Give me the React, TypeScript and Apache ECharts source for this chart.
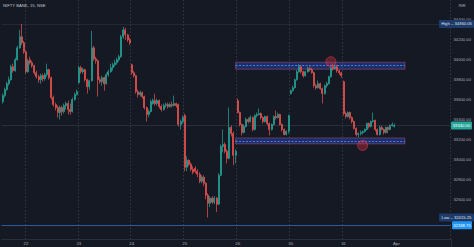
import React, { useEffect, useRef } from 'react';
import * as echarts from 'echarts';

// ---- data: 15-minute candles, [open, close, low, high] ----
const dayLabels = ['19', '22', '23', '24', '25', '26', '30', '31'];
const nextDayLabel = 'Apr';
const emptySlotsAfter = 26;

const mar19 = [
  [33580, 33640, 33560, 33660], [33640, 33700, 33620, 33720], [33700, 33760, 33690, 33780],
  [33760, 33800, 33740, 33830], [33800, 33930, 33790, 33950], [33930, 33890, 33870, 33960],
  [33890, 34000, 33880, 34020], [34000, 34120, 33990, 34140], [34120, 34230, 34110, 34300],
  [34230, 34170, 34150, 34360.05], [34170, 34080, 34060, 34190],
];
const mar22 = [
  [34080, 33880, 33860, 34090], [33880, 33990, 33870, 34010], [34000, 33970, 33950, 34030],
  [33970, 33940, 33920, 33990], [33940, 33870, 33850, 33950], [33870, 33830, 33810, 33890],
  [33830, 33800, 33770, 33850], [33800, 33840, 33760, 33860], [33840, 33810, 33780, 33860],
  [33810, 33850, 33790, 33870], [33850, 33900, 33830, 33960], [33900, 33820, 33800, 33910],
  [33820, 33620, 33600, 33830], [33620, 33550, 33530, 33640], [33550, 33520, 33490, 33570],
  [33520, 33470, 33420, 33540], [33470, 33520, 33400, 33540], [33520, 33480, 33440, 33540],
  [33480, 33540, 33460, 33560], [33540, 33560, 33500, 33580], [33560, 33500, 33450, 33590],
  [33500, 33480, 33450, 33560], [33480, 33600, 33470, 33620], [33600, 33650, 33590, 33670],
  [33650, 33680, 33640, 33700],
];
const mar23 = [
  [33770, 33920, 33760, 33940], [33920, 33880, 33860, 33940], [33880, 33900, 33860, 33920],
  [33900, 33800, 33780, 33910], [33800, 33730, 33660, 33810], [33730, 33790, 33700, 33800],
  [33790, 34120, 33780, 34290], [34120, 34010, 33990, 34140], [34010, 33990, 33960, 34030],
  [33990, 33800, 33630, 34000], [33800, 33780, 33760, 33830], [33780, 33820, 33740, 33840],
  [33820, 33760, 33690, 33830], [33760, 33850, 33750, 33870], [33850, 33880, 33830, 33900],
  [33880, 33920, 33870, 33960], [33920, 33950, 33890, 33970], [33950, 33970, 33930, 34000],
  [33970, 34000, 33950, 34020], [34000, 34030, 33980, 34050], [34030, 34230, 34020, 34250],
  [34230, 34300, 34210, 34330], [34300, 34250, 34200, 34320], [34250, 34200, 34180, 34260],
  [34200, 34170, 34150, 34220],
];
const mar24 = [
  [33950, 33870, 33850, 33960], [33870, 33840, 33820, 33890], [33840, 33680, 33660, 33850],
  [33680, 33650, 33620, 33700], [33650, 33670, 33630, 33690], [33670, 33630, 33610, 33680],
  [33630, 33520, 33500, 33640], [33520, 33450, 33380, 33530], [33450, 33480, 33420, 33500],
  [33480, 33580, 33470, 33600], [33560, 33590, 33550, 33610], [33590, 33560, 33540, 33660],
  [33560, 33590, 33540, 33610], [33590, 33530, 33510, 33600], [33530, 33500, 33480, 33550],
  [33500, 33540, 33490, 33560], [33540, 33550, 33520, 33570], [33550, 33530, 33510, 33570],
  [33530, 33550, 33520, 33570], [33550, 33540, 33520, 33580], [33540, 33560, 33530, 33640],
  [33560, 33540, 33520, 33570], [33550, 33350, 33330, 33560], [33350, 33380, 33300, 33400],
  [33380, 33420, 33360, 33440],
];
const mar25 = [
  [33440, 32920, 32880, 33460], [32920, 32990, 32880, 33030], [32990, 32950, 32930, 33000],
  [32950, 32900, 32880, 32970], [32900, 32870, 32850, 32930], [32910, 32880, 32860, 32930],
  [32880, 32850, 32820, 32900], [32850, 32780, 32760, 32870], [32780, 32820, 32760, 32840],
  [32820, 32760, 32730, 32840], [32760, 32640, 32600, 32770], [32640, 32560, 32415.25, 32660],
  [32560, 32610, 32520, 32630], [32610, 32570, 32550, 32630], [32570, 32610, 32550, 32630],
  [32610, 32550, 32470, 32620], [32550, 32840, 32540, 32860], [32840, 33130, 32830, 33150],
  [33130, 33150, 33070, 33300], [33150, 33080, 33060, 33170], [33080, 33010, 32960, 33100],
  [33010, 33320, 33000, 33520], [33320, 33260, 33230, 33340], [33260, 33040, 32940, 33280],
  [33040, 33080, 32960, 33100],
];
const mar26 = [
  [33590, 33470, 33460, 33610], [33470, 33350, 33330, 33480], [33350, 33270, 33240, 33360],
  [33270, 33330, 33260, 33350], [33330, 33400, 33320, 33420], [33400, 33380, 33360, 33420],
  [33380, 33420, 33370, 33440], [33420, 33300, 33280, 33430], [33300, 33440, 33290, 33450],
  [33440, 33450, 33420, 33470], [33450, 33460, 33440, 33510], [33460, 33420, 33400, 33470],
  [33420, 33380, 33360, 33430], [33380, 33430, 33370, 33440], [33430, 33360, 33340, 33440],
  [33360, 33300, 33240, 33370], [33300, 33350, 33290, 33360], [33350, 33430, 33340, 33440],
  [33430, 33420, 33400, 33490], [33420, 33450, 33410, 33470], [33450, 33350, 33340, 33460],
  [33350, 33300, 33280, 33360], [33300, 33250, 33240, 33310], [33250, 33280, 33240, 33290],
  [33280, 33440, 33260, 33450],
];
const mar30 = [
  [33660, 33690, 33650, 33700], [33690, 33720, 33680, 33740], [33720, 33800, 33710, 33810],
  [33800, 33880, 33790, 33900], [33880, 33930, 33870, 33955], [33930, 33880, 33860, 33945],
  [33880, 33840, 33820, 33890], [33840, 33880, 33830, 33890], [33880, 33910, 33870, 33930],
  [33910, 33900, 33880, 33935], [33900, 33870, 33860, 33920], [33870, 33740, 33720, 33880],
  [33740, 33720, 33700, 33760], [33720, 33760, 33710, 33790], [33760, 33710, 33700, 33770],
  [33710, 33660, 33560, 33720], [33660, 33740, 33650, 33750], [33740, 33760, 33720, 33780],
  [33760, 33830, 33750, 33840], [33830, 33920, 33820, 33930], [33930, 33910, 33890, 33960],
  [33910, 33930, 33900, 33950], [33930, 33890, 33870, 33950], [33890, 33870, 33850, 33900],
  [33870, 33840, 33820, 33880],
];
const mar31 = [
  [33780, 33460, 33440, 33790], [33460, 33430, 33410, 33480], [33430, 33470, 33420, 33480],
  [33470, 33420, 33400, 33480], [33420, 33380, 33360, 33430], [33380, 33310, 33300, 33390],
  [33310, 33250, 33230, 33320], [33250, 33260, 33220, 33270], [33260, 33270, 33240, 33290],
  [33270, 33280, 33250, 33290], [33280, 33300, 33270, 33310], [33300, 33360, 33290, 33370],
  [33360, 33330, 33310, 33370], [33330, 33380, 33320, 33390], [33380, 33390, 33370, 33470],
  [33390, 33300, 33280, 33400], [33300, 33250, 33240, 33310], [33250, 33320, 33240, 33340],
  [33320, 33300, 33290, 33340], [33300, 33270, 33250, 33310], [33270, 33320, 33260, 33330],
  [33320, 33300, 33260, 33330], [33300, 33340, 33290, 33350], [33340, 33350, 33330, 33370],
  [33330, 33340, 33320, 33360],
];
const days = [mar19, mar22, mar23, mar24, mar25, mar26, mar30, mar31];

// price levels and drawings
const yMin = 32200;
const yMax = 34600;
const yStep = 200;
const labelMin = 32600;
const labelMax = 34400;
const highValue = 34360.05;
const lowValue = 32415.25;
const lastPrice = 33340.0;
const alertLevel = 32338.75;
const resistanceZone = [33905, 33975];
const supportZone = [33155, 33215];
const zoneFromIndex = 110;
const zoneToIndex = 190;
const touchMarks = [
  [155, 33980],
  [170, 33140],
];

const FONT = 'Liberation Sans, Arial, sans-serif';
const UP = '#26a69a';
const DOWN = '#ef5350';

export default function App() {
  const ref = useRef<HTMLDivElement>(null);

  useEffect(() => {
    document.body.style.margin = '0';
    const el = ref.current!;
    const chart = echarts.init(el, null, { renderer: 'svg' });

    const categories: string[] = [];
    const data: number[][] = [];
    const dayStarts: number[] = [];
    days.forEach((d, k) => {
      dayStarts.push(categories.length);
      d.forEach((c) => {
        categories.push(dayLabels[k]);
        data.push(c);
      });
    });
    const aprStart = categories.length;
    for (let i = 0; i < emptySlotsAfter; i++) categories.push(nextDayLabel);

    const labelSet = new Set<number>([...dayStarts.slice(1), aprStart]);
    const lineSet = new Set<number>(dayStarts.slice(1));

    const zoneMid = (z: number[]) => (z[0] + z[1]) / 2;
    const dashStyle = { color: 'rgba(90,150,255,0.95)', type: [2, 1.5], width: 0.8 };

    const option: any = {
      animation: false,
      backgroundColor: '#151924',
      textStyle: { fontFamily: FONT },
      grid: { left: 1.54, right: 22, top: -1, bottom: 8 },
      xAxis: {
        type: 'category',
        data: categories,
        boundaryGap: true,
        axisLine: { show: true, lineStyle: { color: '#2a2e39', width: 1 } },
        axisTick: { show: false },
        axisLabel: {
          interval: (i: number) => labelSet.has(i),
          color: '#a8abb4',
          fontSize: 4.4,
          margin: 2,
          fontFamily: FONT,
        },
        splitLine: {
          show: true,
          interval: (i: number) => lineSet.has(i),
          lineStyle: { color: 'rgba(120,123,134,0.4)', type: [1.5, 2], width: 0.8 },
        },
      },
      yAxis: {
        type: 'value',
        position: 'right',
        min: yMin,
        max: yMax,
        interval: yStep,
        axisLine: { show: false },
        axisTick: { show: false },
        splitLine: { show: false },
        axisLabel: {
          color: '#a8abb4',
          fontSize: 4.2,
          margin: 3,
          fontFamily: FONT,
          formatter: (v: number) => (v >= labelMin && v <= labelMax ? v.toFixed(2) : ''),
        },
      },
      series: [
        {
          type: 'candlestick',
          data,
          barWidth: 1.5,
          itemStyle: {
            color: UP,
            color0: DOWN,
            borderColor: UP,
            borderColor0: DOWN,
            borderWidth: 0.7,
          },
          markArea: {
            silent: true,
            itemStyle: {
              color: 'rgba(41,98,255,0.32)',
              borderColor: 'rgba(205,80,120,0.55)',
              borderWidth: 0.8,
            },
            data: [
              [
                { xAxis: zoneFromIndex, yAxis: resistanceZone[1] },
                { xAxis: zoneToIndex, yAxis: resistanceZone[0] },
              ],
              [
                { xAxis: zoneFromIndex, yAxis: supportZone[1] },
                { xAxis: zoneToIndex, yAxis: supportZone[0] },
              ],
            ],
          },
          markLine: {
            silent: true,
            symbol: 'none',
            label: { show: false },
            data: [
              [
                { coord: [zoneFromIndex, zoneMid(resistanceZone)], lineStyle: dashStyle },
                { coord: [zoneToIndex, zoneMid(resistanceZone)] },
              ],
              [
                { coord: [zoneFromIndex, zoneMid(supportZone)], lineStyle: dashStyle },
                { coord: [zoneToIndex, zoneMid(supportZone)] },
              ],
              { yAxis: alertLevel, lineStyle: { color: '#2b5a9c', type: 'solid', width: 1 } },
              { yAxis: lastPrice, lineStyle: { color: 'rgba(120,123,134,0.25)', type: 'solid', width: 0.8 } },
              { yAxis: highValue, lineStyle: { color: 'rgba(120,123,134,0.2)', type: 'solid', width: 0.8 } },
            ],
          },
          markPoint: {
            silent: true,
            symbol: 'circle',
            symbolSize: 10,
            label: { show: false },
            itemStyle: {
              color: 'rgba(242,54,69,0.32)',
              borderColor: 'rgba(242,54,69,0.7)',
              borderWidth: 0.8,
            },
            data: touchMarks.map((m) => ({ coord: m })),
          },
        },
      ],
    };

    chart.setOption(option);

    const yOf = (v: number) => chart.convertToPixel({ yAxisIndex: 0 }, v) as number;
    const tag = (x: number, w: number, v: number, bg: string, text: string, color: string) => [
      {
        type: 'rect',
        z: 100,
        shape: { x, y: yOf(v) - 4, width: w, height: 8, r: 1 },
        style: { fill: bg },
      },
      {
        type: 'text',
        z: 101,
        x: x + w / 2,
        y: yOf(v),
        style: {
          text,
          fill: color,
          fontSize: 4.2,
          fontFamily: FONT,
          align: 'center',
          verticalAlign: 'middle',
        },
      },
    ];

    chart.setOption({
      graphic: {
        elements: [
          {
            type: 'text',
            x: 3,
            y: 5,
            style: {
              text: 'NIFTY BANK, 15, NSE',
              fill: '#c3c6ce',
              fontSize: 4.2,
              fontFamily: FONT,
              verticalAlign: 'middle',
            },
          },
          {
            type: 'text',
            x: 462,
            y: 5,
            style: {
              text: 'INR',
              fill: '#a8abb4',
              fontSize: 4.2,
              fontFamily: FONT,
              align: 'center',
              verticalAlign: 'middle',
            },
          },
          {
            type: 'line',
            shape: { x1: 451.5, y1: 239, x2: 451.5, y2: 247 },
            style: { stroke: '#2a2e39', lineWidth: 1 },
          },
          ...tag(439, 35, highValue, '#1c3b6b', 'High – ' + highValue.toFixed(2), '#e0e3eb'),
          ...tag(451, 21, lastPrice, UP, lastPrice.toFixed(2), '#ffffff'),
          ...tag(439, 35, lowValue, '#1c3b6b', 'Low – ' + lowValue.toFixed(2), '#e0e3eb'),
          ...tag(452, 20, alertLevel, '#2196f3', alertLevel.toFixed(2), '#ffffff'),
        ],
      },
    });

    return () => {
      chart.dispose();
    };
  }, []);

  return (
    <div
      ref={ref}
      style={{ position: 'fixed', left: 0, top: 0, width: 474, height: 247, background: '#151924' }}
    />
  );
}
